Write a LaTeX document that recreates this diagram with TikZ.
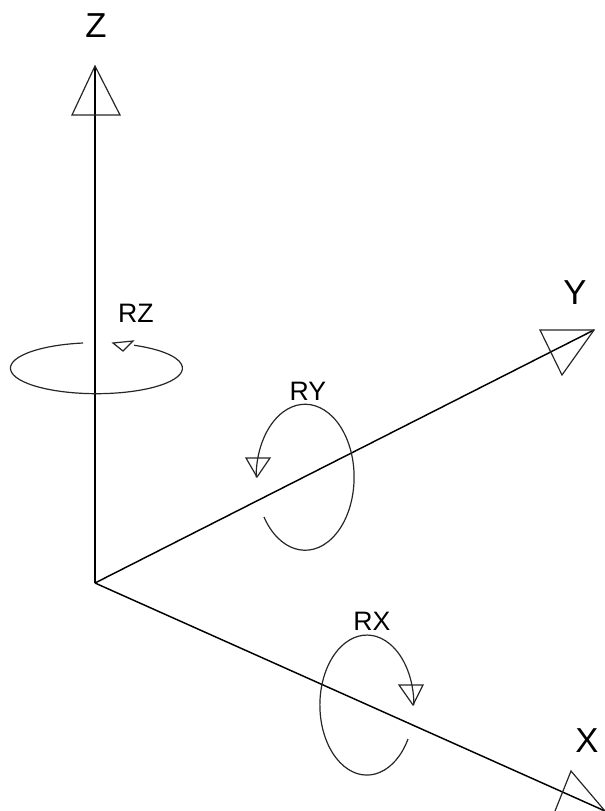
\documentclass[tikz,border=0pt]{standalone}
\usepackage{fontspec}
\setmainfont{Liberation Sans}
\usepackage{tikz}
\usetikzlibrary{positioning,calc}

\begin{document}
\begin{tikzpicture}[
    x=0.75pt, y=-0.75pt,
    axis/.style={line width=1.1pt, black},
    rot/.style={line width=0.9pt, black!85},
    head/.style={line width=0.9pt, black!85, line join=miter},
    biglabel/.style={font=\fontsize{26}{30}\selectfont, inner sep=0pt},
    smalllabel/.style={font=\fontsize{20}{24}\selectfont, inner sep=0pt}]
    \useasboundingbox (0,0) rectangle (605,811);
    \clip (0,0) rectangle (605,811);
    \coordinate (o) at (95,583);
    \coordinate (tipz) at (95,66);
    \coordinate (tipy) at (594,330);
    \coordinate (tipx) at (605,811);
    % axes
    \draw[axis] (o) -- (tipz);
    \draw[axis] (o) -- (tipy);
    \draw[axis] (o) -- (tipx);
    \draw[head] (tipz) -- (72,115) -- (120,115) -- cycle;
    \draw[head] (tipy) -- (540,330) -- (562,375) -- cycle;
    \draw[head] (tipx) -- (571,771) -- (553,816) -- cycle;
    \node[biglabel] (z) at (96,26) {Z};
    \node[biglabel] (y) at (575,293) {Y};
    \node[biglabel] (x) at (587,741) {X};
    % rotations
    \coordinate (startz) at (83,343);
    \coordinate (starty) at (264,517);
    \coordinate (startx) at (408,739);
    \draw[rot] (startz) arc[start angle=99, end angle=424, x radius=86, y radius=-25.5];
    \draw[head] (113,343) -- (133,341) -- (123,351) -- cycle;
    \draw[rot] (starty) arc[start angle=-147, end angle=180, x radius=49, y radius=-73];
    \draw[head] (257,477) -- (246,458) -- (270,458) -- cycle;
    \draw[rot] (startx) arc[start angle=-29, end angle=-360, x radius=47, y radius=-70];
    \draw[head] (413,705) -- (399,685) -- (423,685) -- cycle;
    \node[smalllabel] (rz) at (136,313) {RZ};
    \node[smalllabel] (ry) at (308,391) {RY};
    \node[smalllabel] (rx) at (372,621) {RX};
\end{tikzpicture}
\end{document}
